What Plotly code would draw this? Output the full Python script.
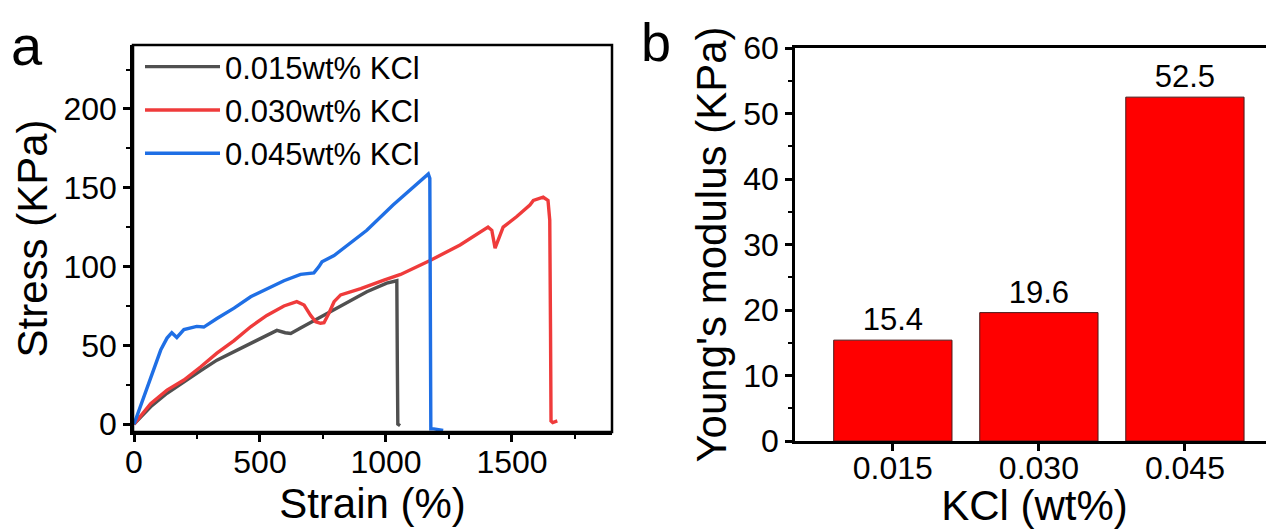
import plotly.graph_objects as go

# ---------------- data ----------------
strain_015 = [0, 66, 131, 198, 265, 329, 397, 463, 527, 567, 600, 622, 661, 726, 794, 860, 924, 1003, 1043, 1045, 1047, 1056]
stress_015 = [0, 11, 19.6, 27, 34, 40.6, 46, 51.4, 56, 59.5, 58, 57.5, 61, 66.7, 72.4, 78.7, 84, 89.5, 91, 40, 0, -1]

strain_030 = [0, 66, 131, 198, 265, 329, 397, 463, 527, 595, 646, 675, 701, 721, 740, 754, 774, 794, 820, 900, 992,
              1058, 1177, 1294, 1405, 1420, 1433, 1445, 1465, 1518, 1571, 1585, 1624, 1643, 1650, 1653, 1655, 1662, 1680]
stress_030 = [0, 13, 21.6, 28, 36.4, 45, 53, 61.8, 69, 75, 77.7, 75.6, 69, 65, 64, 64.3, 70.5, 77.7, 82, 86, 91.4,
              95, 104, 113.7, 125, 123, 111.7, 116.8, 125, 131.6, 139, 142, 144, 142, 129.5, 60, 2, 1, 2]

strain_045 = [0, 52, 106, 131, 150, 170, 198, 249, 277, 329, 397, 463, 527, 595, 661, 714, 734, 746, 794, 924,
              1028, 1161, 1168, 1174, 1176, 1178, 1190, 1227]
stress_045 = [0, 23, 47, 54.6, 58, 55, 60, 62, 61.6, 67, 73.6, 80.8, 86, 91, 95, 96, 100, 103, 107, 123,
              139, 158, 158.7, 156, 80, -3, -3, -4]

series_names = ["0.015wt% KCl", "0.030wt% KCl", "0.045wt% KCl"]
series_colors = ["#505050", "#ef3b3b", "#1f6fe5"]

kcl_categories = ["0.015", "0.030", "0.045"]
youngs_modulus = [15.4, 19.6, 52.5]

# ---------------- figure ----------------
# the page places the figure 8 px from the top-left corner (default body margin)
OFF = 8
W, H = 1274 - OFF, 529 - OFF
FONT = "Liberation Sans, Arial, sans-serif"


def px_x(p):
    return (p - OFF) / W


def px_y(p):
    return 1 - (p - OFF) / H


fig = go.Figure()

curves = [(strain_015, stress_015), (strain_030, stress_030), (strain_045, stress_045)]
for (xs, ys), name, col in zip(curves, series_names, series_colors):
    fig.add_trace(go.Scatter(x=xs, y=ys, mode="lines", name=name,
                             line=dict(color=col, width=3.4),
                             xaxis="x", yaxis="y"))

fig.add_trace(go.Bar(x=kcl_categories, y=youngs_modulus, width=0.81,
                     marker=dict(color="#ff0000", line=dict(color="#4a1a1a", width=1)),
                     text=[f"{v:.1f}" for v in youngs_modulus], textposition="outside",
                     textfont=dict(size=31, color="black", family=FONT),
                     cliponaxis=False, showlegend=False,
                     xaxis="x2", yaxis="y2"))

axis_common = dict(showgrid=False, zeroline=False, showline=True, linecolor="black",
                   linewidth=2.5, ticks="outside", ticklen=7, tickwidth=2.5, tickcolor="black",
                   automargin=False,
                   tickfont=dict(size=32, family=FONT, color="black"))

fig.update_layout(
    width=W, height=H,
    margin=dict(l=0, r=0, t=0, b=0, autoexpand=False),
    paper_bgcolor="white", plot_bgcolor="white",
    font=dict(family=FONT, color="black"),
    showlegend=True,
    legend=dict(x=px_x(140), y=px_y(40), xanchor="left", yanchor="top",
                itemwidth=75,
                bgcolor="rgba(0,0,0,0)", font=dict(size=31, family=FONT, color="black"),
                tracegroupgap=0),
    xaxis=dict(domain=[px_x(133), px_x(612)], range=[-4, 1897], anchor="y",
               tickmode="array", tickvals=[0, 500, 1000, 1500],
               minor=dict(dtick=250, ticklen=4, tickwidth=2, ticks="outside", tickcolor="black"),
               ticklabelstandoff=-7,
               title=dict(text="Strain (%)", font=dict(size=42, family=FONT), standoff=8),
               **axis_common),
    yaxis=dict(domain=[px_y(432), px_y(45)], range=[-5, 240.6], anchor="x",
               tickmode="array", tickvals=[0, 50, 100, 150, 200],
               minor=dict(dtick=25, ticklen=4, tickwidth=2, ticks="outside", tickcolor="black"),
               title=dict(text="Stress (KPa)", font=dict(size=42, family=FONT), standoff=3),
               **axis_common),
    xaxis2=dict(domain=[px_x(795), 1.0], range=[-0.67, 2.61], anchor="y2",
                type="category", mirror=True,
                ticklabelstandoff=-10,
                title=dict(text="KCl (wt%)", font=dict(size=42, family=FONT), standoff=6),
                **axis_common),
    yaxis2=dict(domain=[px_y(441), px_y(48)], range=[0, 60], anchor="x2",
                tickmode="array", tickvals=[0, 10, 20, 30, 40, 50, 60],
                minor=dict(dtick=5, ticklen=4, tickwidth=2, ticks="outside", tickcolor="black"),
                title=dict(text="Young's modulus (KPa)", font=dict(size=42, family=FONT), standoff=4),
                **axis_common),
    shapes=[
        dict(type="rect", xref="x domain", yref="y domain", x0=0, x1=1, y0=0, y1=1,
             line=dict(color="black", width=2.5), fillcolor="rgba(0,0,0,0)", layer="above"),
    ],
    annotations=[
        dict(text="a", x=px_x(9), y=px_y(12), xref="paper", yref="paper",
             xanchor="left", yanchor="top", showarrow=False,
             font=dict(size=56, family=FONT, color="black")),
        dict(text="b", x=px_x(639), y=px_y(10), xref="paper", yref="paper",
             xanchor="left", yanchor="top", showarrow=False,
             font=dict(size=54, family=FONT, color="black")),
    ],
)

fig.write_html("out.html")
